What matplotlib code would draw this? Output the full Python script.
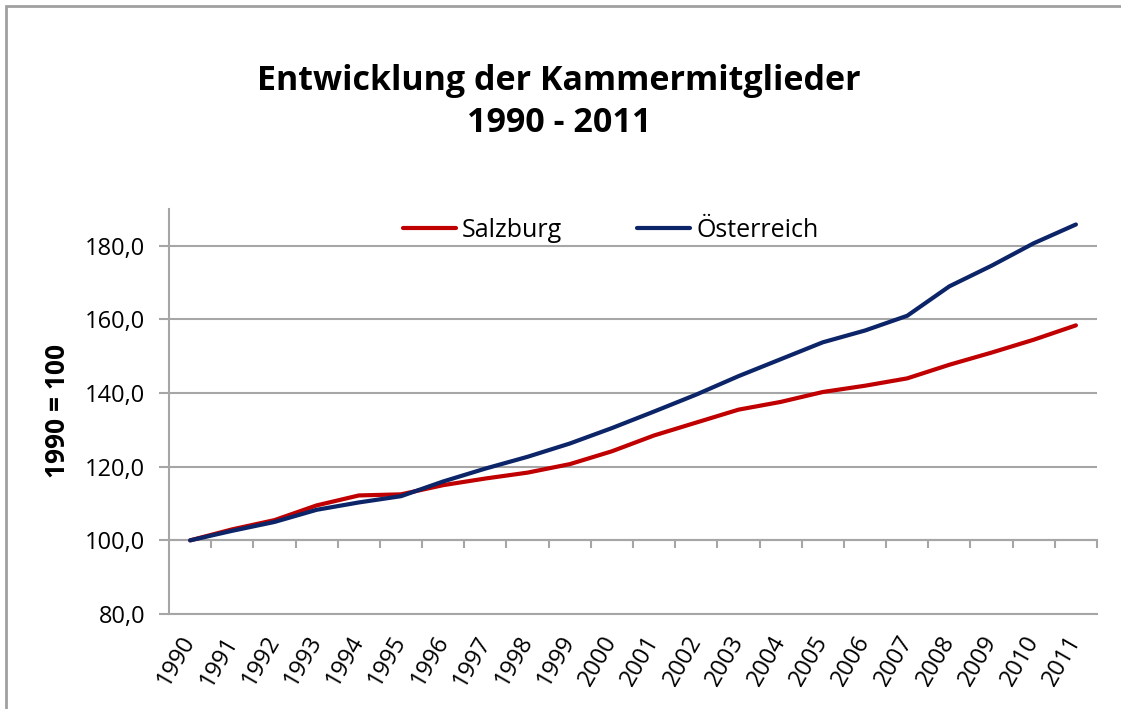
import matplotlib
matplotlib.use('Agg')
import matplotlib.pyplot as plt
from matplotlib.patches import Rectangle
from matplotlib.ticker import FuncFormatter

plt.rcParams['font.family'] = ['Open Sans', 'DejaVu Sans']

years = [str(y) for y in range(1990, 2012)]
salzburg = [100.0, 103.0, 105.5, 109.5, 112.2, 112.5, 115.0, 116.8, 118.4, 120.7,
            124.2, 128.5, 132.0, 135.5, 137.6, 140.3, 142.0, 144.0, 147.7, 151.0,
            154.5, 158.4]
oesterreich = [100.0, 102.6, 105.0, 108.3, 110.3, 112.0, 116.0, 119.5, 122.7, 126.3,
               130.5, 135.0, 139.6, 144.6, 149.2, 153.8, 157.0, 161.0, 169.0, 174.6,
               180.7, 185.8]

grey = '#a6a6a6'

fig = plt.figure(figsize=(11.21, 7.09), dpi=100)
ax = fig.add_axes([0.1508, 0.134, 0.8278, 0.5712])

x = range(len(years))
ax.plot(x, salzburg, color='#c00000', lw=3, label='Salzburg', solid_capstyle='round')
ax.plot(x, oesterreich, color='#0c2468', lw=3, label='Österreich', solid_capstyle='round')

ax.set_xlim(-0.5, len(years) - 0.5)
ax.set_ylim(80, 190)
ax.set_yticks(range(80, 181, 20))
ax.yaxis.set_major_formatter(FuncFormatter(lambda v, p: f'{v:.1f}'.replace('.', ',')))
ax.grid(axis='y', color=grey, lw=1.5)
ax.set_axisbelow(True)

for s in ['top', 'right']:
    ax.spines[s].set_visible(False)
for s in ['left', 'bottom']:
    ax.spines[s].set_color(grey)
    ax.spines[s].set_linewidth(1.5)

ax.tick_params(axis='y', length=7, width=1.5, color=grey, labelsize=17, pad=10)
ax.set_xticks(list(x))
ax.set_xticklabels(years, rotation=60, ha='right', va='center', rotation_mode='anchor')
ax.tick_params(axis='x', length=0, labelsize=17, pad=17)

# category axis crossing at 100
sec = ax.secondary_xaxis((100 - 80) / 110)
sec.set_xticks([i + 0.5 for i in range(len(years))])
sec.set_xticklabels([])
sec.spines['bottom'].set_color(grey)
sec.spines['bottom'].set_linewidth(1.5)
sec.tick_params(length=6, width=1.5, color=grey, direction='out')

ax.legend(loc='center', bbox_to_anchor=(0.476, 0.948), ncol=2, frameon=False,
          fontsize=18, handlelength=2.1, handletextpad=0.25, columnspacing=3.0)

fig.text(0.4987, 0.856, 'Entwicklung der Kammermitglieder\n1990 - 2011',
         ha='center', va='center', fontsize=24.5, fontweight='bold', linespacing=1.3)
fig.text(0.051, 0.42, '1990 = 100', rotation=90, ha='center', va='center',
         fontsize=19, fontweight='bold')

fig.patches.append(Rectangle((0.0055, -0.05), 1.2, 1.042, transform=fig.transFigure,
                             fill=False, edgecolor='#a0a0a0', lw=2))

fig.savefig('out.png', dpi=100)
